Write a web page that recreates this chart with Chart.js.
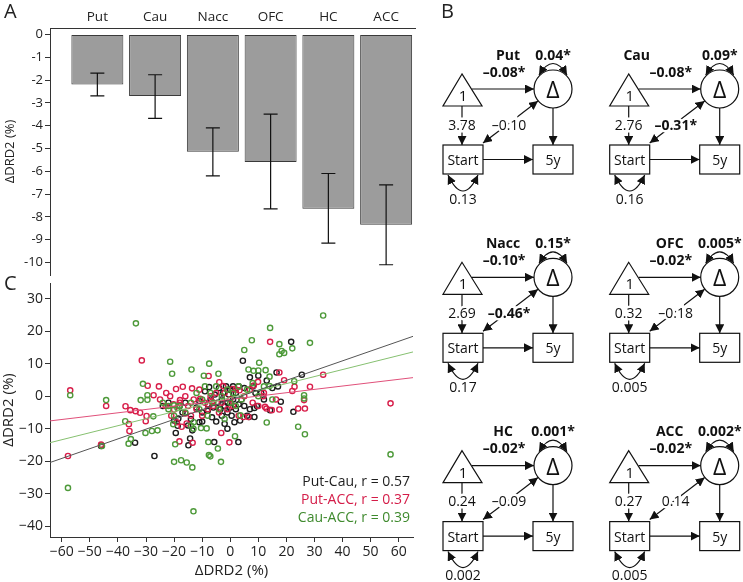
<!DOCTYPE html>
<html><head><meta charset="utf-8">
<script src="https://cdn.jsdelivr.net/npm/chart.js@4"></script>
<style>
body{margin:0;background:#fff;font-family:'Open Sans',sans-serif;}
#wrap{position:relative;width:743px;height:582px;overflow:hidden}
canvas{position:absolute;left:0}
.lbl{position:absolute;font-size:20px;color:#222;line-height:26px}
.leg{position:absolute;left:270px;width:140px;text-align:right;font-size:14px;line-height:18px;white-space:nowrap}
</style></head>
<body><div id="wrap">
<canvas id="bars" width="420" height="280" style="top:0"></canvas>
<canvas id="scatter" width="420" height="302" style="top:280px"></canvas>
<svg id="sem" width="743" height="582" style="position:absolute;left:0;top:0"></svg>
<div class="lbl" style="left:4px;top:-2px">A</div>
<div class="lbl" style="left:441px;top:-2px">B</div>
<div class="lbl" style="left:4px;top:270px">C</div>
<div class="leg" style="top:472px;color:#1e1e1e">Put-Cau, r = 0.57</div>
<div class="leg" style="top:490px;color:#d41c48">Put-ACC, r = 0.37</div>
<div class="leg" style="top:508px;color:#3f8a2e">Cau-ACC, r = 0.39</div>
</div>
<script>
// panel A
var regions = ['Put', 'Cau', 'Nacc', 'OFC', 'HC', 'ACC'];
var meanChange = [-2.2, -2.7, -5.15, -5.6, -7.65, -8.35];
var errTop = [-1.7, -1.77, -4.1, -3.5, -6.1, -6.6];
var errBottom = [-2.7, -3.68, -6.2, -7.65, -9.15, -10.1];
var yTicksA = [0, -1, -2, -3, -4, -5, -6, -7, -8, -9, -10];

// panel B
var semVarDelta = ['0.04*', '0.09*', '0.15*', '0.005*', '0.001*', '0.002*'];
var semMeanDelta = ['–0.08*', '–0.08*', '–0.10*', '–0.02*', '–0.02*', '–0.02*'];
var semStartMean = ['3.78', '2.76', '2.69', '0.32', '0.24', '0.27'];
var semCov = ['–0.10', '–0.31*', '–0.46*', '–0.18', '–0.09', '0.14'];
var semStartVar = ['0.13', '0.16', '0.17', '0.005', '0.002', '0.005'];

// panel C
var putCau = [[-46,-15.3],[-33.9,-14.3],[-27,-18.4],[-19.4,-11.3],[-18.7,-9.1],[-18.5,-6.9],[-20,-7.5],[-18,-3],[-17,-5],[-16,-2],[-14.9,-15.1],[-14.3,-13.0],[-13.5,-10.5],[-14,-7],[-12,-3.5],[-11,-1.5],[-10,-5],[-10,-7.8],[-9,1.5],[-8,-2.5],[-8,-4.5],[-7.5,2.8],[-7,-1],[-6.5,-6.5],[-6,-3.5],[-5.7,-14.1],[-5.5,0.5],[-5,-7.8],[-4.5,-2],[-4,2.5],[-3.5,-4],[-3,-1],[-3,-6],[-2.5,1],[-2,-3],[-2,-8.5],[-1.5,3],[-1,-2],[-1,-5],[-1,-10],[-0.5,0.5],[0,-3.5],[0,2],[0.5,-6],[1,3],[1,-1],[1.5,-8],[2,-4],[2,1],[2.9,-14.1],[3,-2.5],[3,3],[3.5,-7.5],[4,-1],[4.5,10.9],[5,-3],[5,2.5],[6,-6],[6.7,-6.4],[7,-4],[7,5.8],[8,3],[8.6,-6.4],[8.6,-3.6],[9,1],[9.5,-3],[10,6.3],[11,1],[12,-1],[13,4.8],[14.2,-4.3],[15,2.5],[16.5,7.3],[17,3],[18,-1.7],[21.7,16.7],[22.5,-4.8],[25.5,6.6],[-22,-2],[-24,-3],[-11,-8],[-15,-9]];
var putAcc = [[-57,1.8],[-57.8,-18.4],[-46,-14.9],[-44.2,-3.0],[-37.3,-3.1],[-35.6,-4.3],[-36.1,-8.6],[-35.9,-10.7],[-33.7,-4.6],[-32.1,-5.1],[-31.5,11.0],[-29.4,3.2],[-29.8,-6.1],[-30.1,-7.7],[-27.3,0.3],[-25.4,3.0],[-22.8,1.0],[-21.4,0],[-20.2,-2.5],[-20,-4.1],[-19.3,2.2],[-17.9,-1.2],[-16.9,2.9],[-16,-5.3],[-15.5,-8.4],[-17.3,-9.4],[-13.4,-14.3],[-18.1,-13.9],[-13.6,2.4],[-10.7,-0.8],[-7.7,6.2],[-6.5,-1.7],[-3.9,4.3],[-3.2,-11.3],[-0.3,-14.2],[-2.5,3.1],[0.9,2.2],[3.3,1.8],[6.5,-6.4],[11.8,0],[14.2,16.7],[17.5,7.3],[17.5,-4.1],[16.3,-1.0],[19.2,4.9],[22.1,1.6],[22.9,2.9],[24.2,-3.8],[26.6,-3.8],[26.3,-1.2],[28.4,2.9],[33.1,6.6],[8.4,3.3],[9.9,4.4],[12.9,-3.8],[14.8,-4.3],[57.1,-2.2],[-25,-1],[-23,-3],[-21,-6],[-19,-8],[-18,-2],[-16,0],[-15,-3],[-14,-6],[-13,-1],[-12,-4],[-11,2],[-10,-6],[-9,-2],[-8,-4],[-7,0],[-6,-3],[-5,1],[-4,-5],[-3,-2],[-2,1],[-1,-4],[0,-1],[1,-3],[2,2],[3,-6],[5,0],[7,2],[8,-2],[10,-3],[12,1],[4.7,-6.4],[12.4,-3.3]];
var cauAcc = [[-33.6,22.4],[33.1,24.8],[14.2,21.0],[7.7,17.2],[17.5,16.0],[28.4,16.4],[5.0,14.2],[22.1,14.7],[18.3,13.9],[19.2,13.3],[17.5,12.9],[-21.4,10.6],[-7.5,10.0],[10.3,10.3],[-20.7,6.9],[-13.8,8.2],[-4.2,6.9],[6.5,8.2],[8.3,7.8],[10.0,7.9],[12.6,8.0],[-31.1,3.8],[-9.4,6.3],[-44.2,-1.2],[-57,0.3],[-31.9,-1.2],[-29.5,0.3],[-29.5,-1.1],[-37.4,-7.7],[-36.2,-14.6],[-35.4,-13.2],[-45.7,-15.3],[-30.2,-11.3],[-27.9,-10.7],[-25.9,-10.5],[-27.4,-6.2],[-20.3,-8.6],[-19.6,-14.8],[-20.0,-20.2],[-17.5,-19.7],[-15.5,-20.4],[-13.5,-21.9],[-13.1,-35.4],[-57.8,-28.2],[-7.6,-18.1],[-7.1,-18.5],[-3.3,-20.2],[-4.4,-16.1],[-7.8,-14.1],[-8.4,-9.9],[-10.4,-9.8],[-13.1,-10.0],[1.7,-12.3],[3.6,-5.9],[13,-8.1],[24.2,-9.4],[26.6,-11.7],[26.3,0.3],[26.3,-0.7],[22.8,4.6],[14.0,3.1],[57.1,-17.9],[-14,-9],[-22,-3],[-20,-2.8],[-18.8,-3.6],[-24,-2],[-22,-4],[-20,-6],[-18,-3],[-16,-5],[-14,-2],[-13,-8],[-12,1],[-11,-4],[-10,-1],[-9,3],[-8,-6],[-7,1],[-6,-2],[-5,3],[-4,-4],[-3,0],[-2,-7],[-1,2],[0,-2],[1,1],[2,-3],[3,3],[4,-1],[6,2],[8,4],[10,0],[12,3],[14,6],[15,-1]];
var fitX = [-64.2, 65.1];
var fitPutCau = [-20.4, 18.4];
var fitPutAcc = [-7.6, 5.7];
var fitCauAcc = [-14.3, 13.6];
var xTicksC = [-60, -50, -40, -30, -20, -10, 0, 10, 20, 30, 40, 50, 60];
var yTicksC = [30, 20, 10, 0, -10, -20, -30, -40];

Chart.defaults.font.family = "'Open Sans', sans-serif";
Chart.defaults.color = '#222';

function minus(v) { return v < 0 ? '−' + Math.abs(v) : String(v); }
function toPts(arr) { return arr.map(function (p) { return {x: p[0], y: p[1]}; }); }
// fixed axis boxes, no label overflow padding
function fixBox(w, h) {
  return function (s) {
    if (w) s.width = w;
    if (h) s.height = h;
    s.paddingTop = 0; s.paddingBottom = 0; s.paddingLeft = 0; s.paddingRight = 0;
  };
}

var errorBars = {
  id: 'errorBars',
  afterDatasetsDraw: function (chart) {
    var ctx = chart.ctx, xs = chart.scales.x, ys = chart.scales.y;
    ctx.save();
    ctx.strokeStyle = '#111';
    ctx.lineWidth = 1.2;
    regions.forEach(function (r, i) {
      var x = xs.getPixelForValue(i), y1 = ys.getPixelForValue(errTop[i]), y2 = ys.getPixelForValue(errBottom[i]);
      ctx.beginPath();
      ctx.moveTo(x, y1); ctx.lineTo(x, y2);
      ctx.moveTo(x - 7, y1); ctx.lineTo(x + 7, y1);
      ctx.moveTo(x - 7, y2); ctx.lineTo(x + 7, y2);
      ctx.stroke();
    });
    ctx.restore();
  }
};

var barChart = new Chart(document.getElementById('bars'), {
  type: 'bar',
  data: {
    datasets: [{
      data: meanChange.map(function (v, i) { return {x: i, y: v}; }),
      backgroundColor: '#9c9c9c',
      borderColor: '#3a3a3a',
      borderWidth: 1,
      borderSkipped: false,
      barPercentage: 0.9,
      categoryPercentage: 1
    }]
  },
  options: {
    responsive: false,
    animation: false,
    layout: {padding: {right: 5, bottom: 5}, autoPadding: false},
    plugins: {legend: {display: false}, tooltip: {enabled: false}},
    scales: {
      x: {
        type: 'linear', position: 'top', min: -0.82, max: 5.5, offset: false,
        afterBuildTicks: function (s) { s.ticks = regions.map(function (r, i) { return {value: i}; }); },
        afterFit: fixBox(0, 28),
        grid: {display: false, drawTicks: false, offset: false},
        border: {display: true, color: '#333'},
        ticks: {font: {size: 13.5}, padding: 3, maxRotation: 0, callback: function (v) { return regions[v]; }}
      },
      y: {
        min: -10.55, max: 0.28,
        afterBuildTicks: function (s) { s.ticks = yTicksA.map(function (v) { return {value: v}; }); },
        afterFit: fixBox(50, 0),
        grid: {drawOnChartArea: false, tickLength: 5, color: '#333'},
        border: {color: '#333'},
        ticks: {font: {size: 13}, padding: 2, callback: function (v) { return v < 0 ? '-' + Math.abs(v) : v; }},
        title: {display: true, text: 'ΔDRD2 (%)', font: {size: 13}, padding: {top: 2, bottom: 0}}
      }
    }
  },
  plugins: [errorBars]
});

var scatterChart = new Chart(document.getElementById('scatter'), {
  type: 'scatter',
  data: {
    datasets: [
      {type: 'line', data: toPts([[fitX[0], fitPutCau[0]], [fitX[1], fitPutCau[1]]]), borderColor: '#555', borderWidth: 1, pointRadius: 0, order: 0},
      {type: 'line', data: toPts([[fitX[0], fitCauAcc[0]], [fitX[1], fitCauAcc[1]]]), borderColor: '#86c070', borderWidth: 1, pointRadius: 0, order: 0},
      {type: 'line', data: toPts([[fitX[0], fitPutAcc[0]], [fitX[1], fitPutAcc[1]]]), borderColor: '#e0507a', borderWidth: 1, pointRadius: 0, order: 0},
      {data: toPts(putCau), borderColor: '#1c1c1c', backgroundColor: 'transparent', pointRadius: 2.6, borderWidth: 1.4, order: 3},
      {data: toPts(putAcc), borderColor: '#d81e4a', backgroundColor: 'transparent', pointRadius: 2.6, borderWidth: 1.4, order: 2},
      {data: toPts(cauAcc), borderColor: '#4e9a3a', backgroundColor: 'transparent', pointRadius: 2.6, borderWidth: 1.4, order: 1}
    ]
  },
  options: {
    responsive: false,
    animation: false,
    layout: {padding: {top: 3, right: 7}, autoPadding: false},
    plugins: {legend: {display: false}, tooltip: {enabled: false}},
    scales: {
      x: {
        type: 'linear', min: -64.2, max: 65.1,
        afterBuildTicks: function (s) { s.ticks = xTicksC.map(function (v) { return {value: v}; }); },
        afterFit: fixBox(0, 45),
        grid: {drawOnChartArea: false, tickLength: 5, color: '#333'},
        border: {color: '#333'},
        ticks: {font: {size: 14}, padding: 2, maxRotation: 0, callback: minus},
        title: {display: true, text: 'ΔDRD2 (%)', font: {size: 15}, padding: {top: 0, bottom: 2}}
      },
      y: {
        min: -43.3, max: 34.8,
        afterBuildTicks: function (s) { s.ticks = yTicksC.map(function (v) { return {value: v}; }); },
        afterFit: fixBox(50, 0),
        grid: {drawOnChartArea: false, tickLength: 5, color: '#333'},
        border: {color: '#333'},
        ticks: {font: {size: 14}, padding: 2, callback: minus},
        title: {display: true, text: 'ΔDRD2 (%)', font: {size: 15}, padding: {top: 0, bottom: 0}}
      }
    }
  }
});

// panel B: path diagrams
var NS = 'http://www.w3.org/2000/svg';
var svg = document.getElementById('sem');
svg.innerHTML = '<defs><marker id="ah" viewBox="0 0 10 10" refX="10" refY="5" markerWidth="9" markerHeight="9" markerUnits="userSpaceOnUse" orient="auto-start-reverse"><path d="M0,0L10,5L0,10z" fill="#111"/></marker></defs>';
function mk(tag, attrs, txt) {
  var e = document.createElementNS(NS, tag);
  for (var k in attrs) e.setAttribute(k, attrs[k]);
  if (txt !== undefined) e.textContent = txt;
  svg.appendChild(e);
  return e;
}
function label(x, y, s, size, bold, halo) {
  var a = {x: x, y: y, 'text-anchor': 'middle', 'dominant-baseline': 'central', 'font-size': size,
    'font-family': 'Open Sans', 'font-weight': bold ? 700 : 400, fill: '#111'};
  if (halo) { a.stroke = '#fff'; a['stroke-width'] = 5; a['paint-order'] = 'stroke'; }
  return mk('text', a, s);
}
var ln = {stroke: '#111', 'stroke-width': 1.2, fill: 'none'};
function line(x1, y1, x2, y2, both) {
  var a = Object.assign({x1: x1, y1: y1, x2: x2, y2: y2, 'marker-end': 'url(#ah)'}, ln);
  if (both) a['marker-start'] = 'url(#ah)';
  return mk('line', a);
}
function curve(d) { return mk('path', Object.assign({d: d, 'marker-end': 'url(#ah)', 'marker-start': 'url(#ah)'}, ln)); }
var titleDx = [65, 27, 60, 60, 60, 60];

regions.forEach(function (name, i) {
  var bx = 443 + (i % 2) * 166.7, by = 145 + Math.floor(i / 2) * 188.3;
  label(bx + titleDx[i], by - 91, name, 14, true);
  label(bx + 110, by - 91, semVarDelta[i], 14, true);
  curve('M' + (bx + 96) + ',' + (by - 70) + ' Q' + (bx + 110) + ',' + (by - 93) + ' ' + (bx + 124) + ',' + (by - 70));
  mk('circle', Object.assign({cx: bx + 110, cy: by - 56, r: 19}, ln));
  label(bx + 110, by - 56, 'Δ', 23, false);
  mk('polygon', Object.assign({points: (bx + 19) + ',' + (by - 71) + ' ' + bx + ',' + (by - 39) + ' ' + (bx + 39) + ',' + (by - 39)}, ln));
  label(bx + 20, by - 50, '1', 15, false);
  line(bx + 29, by - 56, bx + 91, by - 56);
  label(bx + 61, by - 74, semMeanDelta[i], 14, semMeanDelta[i].indexOf('*') > 0);
  line(bx + 19, by - 39, bx + 19, by);
  label(bx + 19, by - 21, semStartMean[i], 14, false, true);
  mk('rect', Object.assign({x: bx, y: by, width: 40, height: 29}, ln));
  label(bx + 20, by + 14.5, 'Start', 14, false);
  mk('rect', Object.assign({x: bx + 90, y: by, width: 40, height: 29}, ln));
  label(bx + 110, by + 14.5, '5y', 14, false);
  line(bx + 40, by + 14.5, bx + 90, by + 14.5);
  line(bx + 110, by - 37, bx + 110, by);
  line(bx + 40, by - 2, bx + 95, by - 44, true);
  label(bx + 66, by - 21, semCov[i], 14, semCov[i].indexOf('*') > 0, true);
  curve('M' + (bx + 5) + ',' + (by + 30) + ' Q' + (bx + 20) + ',' + (by + 62) + ' ' + (bx + 35) + ',' + (by + 30));
  label(bx + 20, by + 53, semStartVar[i], 14, false);
});
</script>
</body></html>
